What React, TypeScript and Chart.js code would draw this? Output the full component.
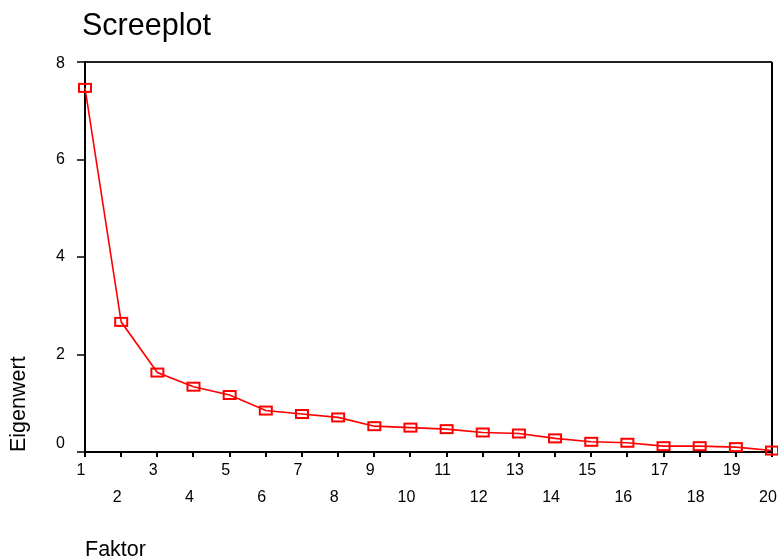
import React, { useEffect, useRef } from 'react';
import { Chart, registerables } from 'chart.js';

Chart.register(...registerables);

const faktorLabels = ['1', '2', '3', '4', '5', '6', '7', '8', '9', '10', '11', '12', '13', '14', '15', '16', '17', '18', '19', '20'];
const eigenwerte = [7.47, 2.67, 1.63, 1.34, 1.17, 0.85, 0.78, 0.71, 0.53, 0.5, 0.47, 0.4, 0.38, 0.28, 0.21, 0.19, 0.12, 0.12, 0.1, 0.03];
const yTickValues = [0, 2, 4, 6, 8];
const chartTitle = 'Screeplot';
const xAxisTitle = 'Faktor';
const yAxisTitle = 'Eigenwert';

const FONT = "'Liberation Sans', Arial, Helvetica, sans-serif";

function makeMarker(): HTMLCanvasElement {
  const c = document.createElement('canvas');
  c.width = 16;
  c.height = 12;
  const g = c.getContext('2d')!;
  g.strokeStyle = '#ff0000';
  g.lineWidth = 2;
  g.strokeRect(2, 2, 12, 8);
  return c;
}

const titlePlugin = {
  id: 'screeTitle',
  afterDraw(chart: any) {
    const ctx = chart.ctx;
    ctx.save();
    ctx.font = `30.5px ${FONT}`;
    ctx.fillStyle = '#000';
    ctx.textAlign = 'left';
    ctx.textBaseline = 'alphabetic';
    ctx.fillText(chartTitle, 82, 35);
    ctx.restore();
  },
};

const labelNudge = {
  id: 'labelNudge',
  beforeDraw(chart: any) {
    const xi = chart.scales.x.getLabelItems();
    if (!xi._nudged) {
      xi._nudged = true;
      xi.forEach((it: any) => {
        it.options.translation[0] -= 4;
      });
    }
    const yi = chart.scales.y.getLabelItems();
    if (!yi._nudged) {
      yi._nudged = true;
      yi.forEach((it: any) => {
        if (it.label === '0') it.options.translation[1] -= 8;
        if (it.label === '8') it.options.translation[1] += 2;
      });
    }
  },
};

export default function App() {
  const ref = useRef<HTMLCanvasElement | null>(null);

  useEffect(() => {
    if (!ref.current) return;
    Chart.defaults.font.family = FONT;
    Chart.defaults.color = '#000';
    const marker = makeMarker();
    const chart = new Chart(ref.current, {
      type: 'line',
      data: {
        labels: faktorLabels,
        datasets: [
          {
            data: eigenwerte,
            borderColor: '#ff0000',
            borderWidth: 1.6,
            pointStyle: marker as any,
            pointRadius: 7,
            pointHoverRadius: 7,
            tension: 0,
            clip: false as any,
          },
        ],
      },
      options: {
        responsive: false,
        animation: false,
        devicePixelRatio: 1,
        events: [],
        layout: { autoPadding: false, padding: { left: 0, top: 62, right: 6, bottom: 0 } },
        plugins: {
          legend: { display: false },
          tooltip: { enabled: false },
          title: { display: false },
        },
        scales: {
          x: {
            type: 'category',
            offset: false,
            grid: {
              offset: false,
              color: (ctx: any) => (ctx.index === faktorLabels.length - 1 ? '#000' : 'rgba(0,0,0,0)'),
              lineWidth: 2,
              tickColor: '#000',
              tickWidth: 2,
              tickLength: 5,
              drawTicks: true,
            },
            border: { display: true, color: '#000', width: 2 },
            ticks: {
              autoSkip: false,
              maxRotation: 0,
              minRotation: 0,
              padding: 0,
              color: '#000',
              font: { size: 16, lineHeight: '27px' as any },
              callback: (_v: any, i: number) => (i % 2 === 0 ? [faktorLabels[i]] : ['', faktorLabels[i]]),
            },
            title: {
              display: true,
              text: xAxisTitle,
              align: 'start',
              color: '#000',
              font: { size: 21.5, lineHeight: '14px' as any },
              padding: { top: 0, bottom: 0 },
            },
            afterFit: (s: any) => {
              s.height = 105;
              s.paddingLeft = 0;
              s.paddingRight = 0;
            },
          },
          y: {
            type: 'linear',
            min: 0,
            max: 8,
            afterBuildTicks: (s: any) => {
              s.ticks = yTickValues.map((v) => ({ value: v }));
            },
            grid: {
              color: (ctx: any) => (ctx.tick && ctx.tick.value === 8 ? '#222' : 'rgba(0,0,0,0)'),
              lineWidth: 2,
              tickColor: '#000',
              tickWidth: 1.5,
              tickLength: 8,
            },
            border: { display: true, color: '#000', width: 2 },
            ticks: {
              padding: 12,
              color: '#000',
              font: { size: 16 },
            },
            title: {
              display: true,
              text: yAxisTitle,
              align: 'start',
              color: '#000',
              font: { size: 21.5, lineHeight: 1.2 },
              padding: { top: 6, bottom: 0 },
            },
            afterFit: (s: any) => {
              s.width = 85;
              s.paddingTop = 0;
              s.paddingBottom = 0;
            },
          },
        },
      },
      plugins: [labelNudge, titlePlugin],
    });
    return () => chart.destroy();
  }, []);

  return (
    <div style={{ position: 'fixed', left: 0, top: 0, width: 778, height: 557, background: '#fff' }}>
      <canvas ref={ref} width={778} height={557} style={{ display: 'block' }} />
    </div>
  );
}
